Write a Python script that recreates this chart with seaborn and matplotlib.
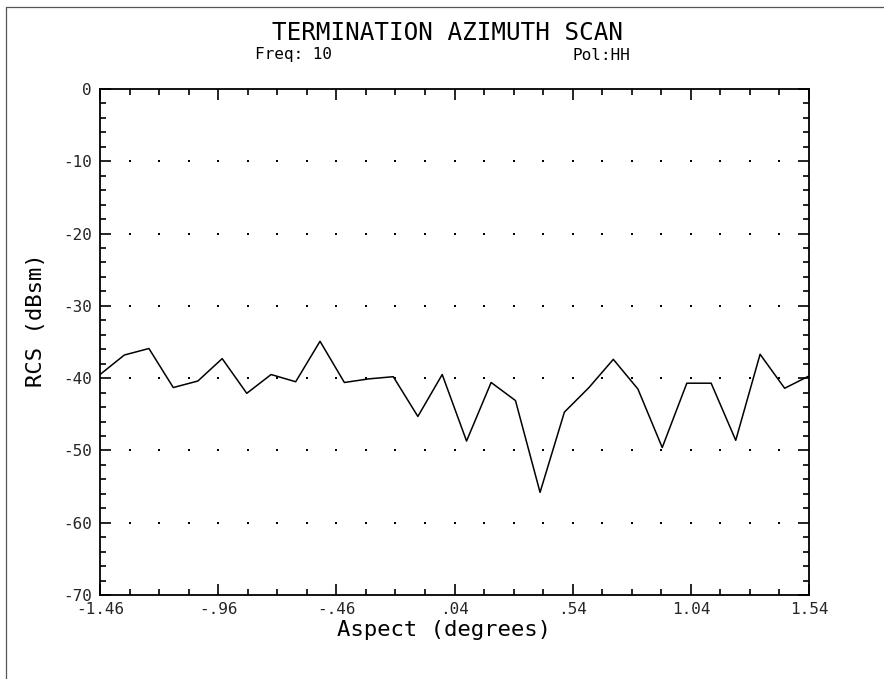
import matplotlib
matplotlib.use("Agg")
import matplotlib.pyplot as plt
from matplotlib.ticker import FixedLocator, FixedFormatter, AutoMinorLocator
from matplotlib.lines import Line2D
import numpy as np
import pandas as pd
import seaborn as sns

# Azimuth scan samples (aspect in degrees, RCS in dBsm)
aspect_deg = [-1.46, -1.357, -1.253, -1.150, -1.046, -0.943, -0.839, -0.736,
              -0.632, -0.529, -0.426, -0.322, -0.219, -0.115, -0.012, 0.091,
              0.195, 0.298, 0.402, 0.505, 0.609, 0.712, 0.816, 0.919, 1.023,
              1.126, 1.230, 1.333, 1.437, 1.54]
rcs_dbsm = [-39.5, -36.8, -35.9, -41.3, -40.4, -37.3, -42.1, -39.5,
            -40.5, -34.9, -40.6, -40.1, -39.8, -45.3, -39.5, -48.7,
            -40.6, -43.1, -55.8, -44.7, -41.3, -37.4, -41.5, -49.6, -40.7,
            -40.7, -48.6, -36.7, -41.4, -39.7]

x_ticks = [-1.46, -0.96, -0.46, 0.04, 0.54, 1.04, 1.54]
x_tick_labels = ["-1.46", "-.96", "-.46", ".04", ".54", "1.04", "1.54"]
y_ticks = [0, -10, -20, -30, -40, -50, -60, -70]
y_tick_labels = ["0", "-10", "-20", "-30", "-40", "-50", "-60", "-70"]

title = "TERMINATION AZIMUTH SCAN"
freq_text = "Freq: 10"
pol_text = "Pol:HH"
x_label = "Aspect (degrees)"
y_label = "RCS (dBsm)"

sns.set_style("white")
plt.rcParams["font.family"] = ["DejaVu Sans Mono"]

W, H = 884, 679
fig = plt.figure(figsize=(W / 100, H / 100), dpi=100)
fig.patch.set_facecolor("white")

# plot box in pixel terms
left, right, top, bottom = 100, 809, 89, 595
ax = fig.add_axes([left / W, 1 - bottom / H, (right - left) / W, (bottom - top) / H])

df = pd.DataFrame({"aspect": aspect_deg, "rcs": rcs_dbsm})
sns.lineplot(data=df, x="aspect", y="rcs", ax=ax, color="black",
             linewidth=1.1, sort=False, legend=False)

ax.set_xlim(x_ticks[0], x_ticks[-1])
ax.set_ylim(y_ticks[-1], y_ticks[0])

ax.xaxis.set_major_locator(FixedLocator(x_ticks))
ax.xaxis.set_major_formatter(FixedFormatter(x_tick_labels))
ax.yaxis.set_major_locator(FixedLocator(y_ticks))
ax.yaxis.set_major_formatter(FixedFormatter(y_tick_labels))
ax.xaxis.set_minor_locator(AutoMinorLocator(4))
ax.yaxis.set_minor_locator(AutoMinorLocator(5))

ax.tick_params(which="both", direction="in", top=True, right=True,
               bottom=True, left=True, color="black", width=1.2)
ax.tick_params(which="major", length=8, labelsize=11.5)
ax.tick_params(which="minor", length=4.3)
ax.tick_params(axis="y", which="major", pad=6)
ax.tick_params(axis="x", which="major", pad=5)

for s in ax.spines.values():
    s.set_visible(True)
    s.set_color("black")
    s.set_linewidth(1.3)

ax.set_xlabel("")
ax.set_ylabel("")

# dotted reference rows at every 10 dB, one dot per x tick position
xs = np.sort(np.concatenate([ax.xaxis.get_majorticklocs(), ax.xaxis.get_minorticklocs()]))
xs = xs[(xs > x_ticks[0] + 1e-6) & (xs < x_ticks[-1] - 1e-6)]
rows = [y for y in y_ticks if y_ticks[-1] < y < y_ticks[0]]
gx, gy = np.meshgrid(xs, rows)
ax.plot(gx.ravel(), gy.ravel(), linestyle="none", marker="s", markersize=1.6,
        color="black", markeredgewidth=0, zorder=1)

def px(x, y):
    return x / W, 1 - y / H

fig.text(*px(447, 33), title, ha="center", va="center", fontsize=17.5, color="black")
fig.text(*px(255, 55), freq_text, ha="left", va="center", fontsize=11.5, color="black")
fig.text(*px(572, 55), pol_text, ha="left", va="center", fontsize=11.5, color="black")
fig.text(*px(444, 630), x_label, ha="center", va="center", fontsize=16, color="black")
fig.text(*px(36, 320), y_label, ha="center", va="center",
         rotation=90, fontsize=16, color="black")

# page frame lines along the top and left edges
fig.add_artist(Line2D([6 / W, 1.0], [1 - 7 / H, 1 - 7 / H], color="#555555",
                      linewidth=0.9, transform=fig.transFigure))
fig.add_artist(Line2D([6 / W, 6 / W], [1 - 7 / H, 0.0], color="#555555",
                      linewidth=0.9, transform=fig.transFigure))

fig.savefig("out.png", dpi=100, facecolor="white")
